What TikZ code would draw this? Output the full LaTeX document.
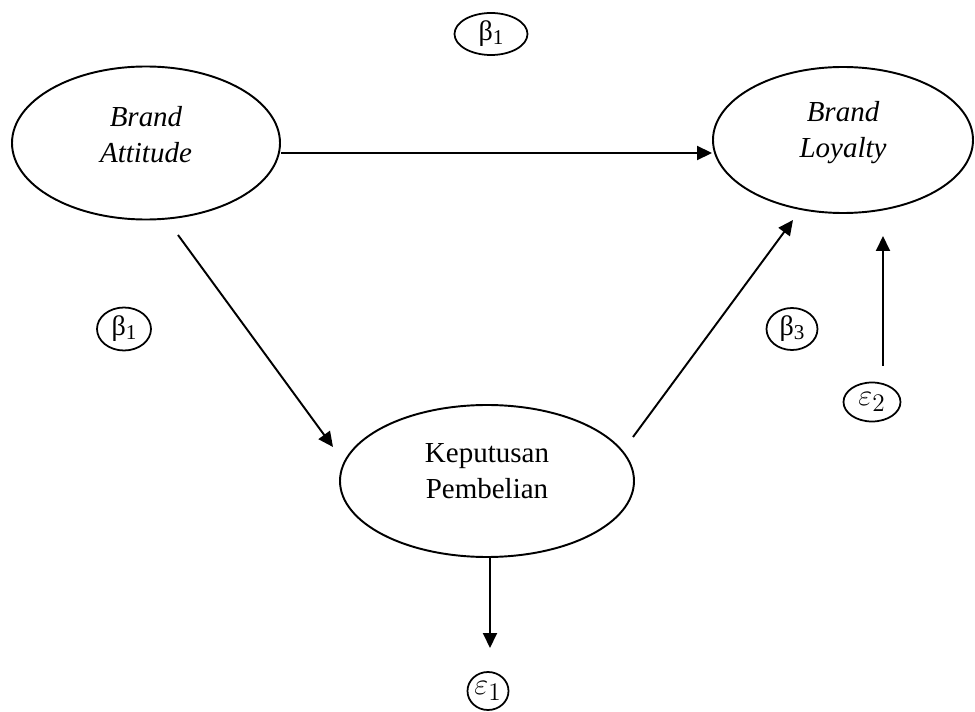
\documentclass[tikz,border=0pt]{standalone}
\usepackage{fontspec}
\setmainfont{Liberation Serif}
\usetikzlibrary{arrows.meta,shapes.geometric}

\begin{document}
\begin{tikzpicture}[
  besar/.style={draw, ellipse, line width=1.1pt, inner sep=0pt},
  kecil/.style={draw, ellipse, line width=1pt, inner sep=0pt},
  teks/.style={align=center, font=\fontsize{16.5}{20.5}\selectfont},
  panah/.style={line width=1.1pt, -{Triangle[length=0.3cm,width=0.28cm]}}
]
\useasboundingbox (0,0) rectangle (19.5,14.22);

% Variabel laten
\node[besar, minimum width=5.36cm, minimum height=3.06cm] (BA) at (2.92, 11.36) {};
\node[besar, minimum width=5.2cm, minimum height=2.92cm] (BL) at (16.86, 11.42) {};
\node[besar, minimum width=5.88cm, minimum height=3.04cm] (KP) at (9.74, 4.6) {};

\node[teks] (tBA) at ([yshift=0.16cm]BA) {\itshape Brand\\\itshape Attitude};
\node[teks] (tBL) at ([yshift=0.14cm]BL) {\itshape Brand\\\itshape Loyalty};
\node[teks] (tKP) at ([yshift=0.19cm]KP) {Keputusan\\Pembelian};

% Koefisien jalur dan error
\node[kecil, minimum width=1.46cm, minimum height=0.84cm] (b1a) at (9.82, 13.54)
  {\fontsize{16}{18}\selectfont β\raisebox{-0.3ex}{\fontsize{12}{14}\selectfont 1}};
\node[kecil, minimum width=1.08cm, minimum height=0.86cm] (b1b) at (2.48, 7.64)
  {\fontsize{16}{18}\selectfont β\raisebox{-0.3ex}{\fontsize{12}{14}\selectfont 1}};
\node[kecil, minimum width=1.02cm, minimum height=0.84cm] (b3) at (15.84, 7.64)
  {\fontsize{16}{18}\selectfont β\raisebox{-0.3ex}{\fontsize{12}{14}\selectfont 3}};
\node[kecil, minimum width=1.14cm, minimum height=0.78cm] (e2) at (17.44, 6.18)
  {\fontsize{19}{21}\selectfont $\varepsilon_2$};
\node[kecil, minimum width=0.82cm, minimum height=0.76cm] (e1) at (9.76, 0.4)
  {\fontsize{19}{21}\selectfont $\varepsilon_1$};

% Panah
\draw[panah] ([yshift=-0.2cm]BA.east) -- ([yshift=-0.26cm]BL.west);
\draw[panah] ([shift={(0.64,-1.84)}]BA.center) -- ([shift={(-3.08,0.68)}]KP.center);
\draw[panah] ([shift={(2.92,0.88)}]KP.center) -- ([shift={(-1.0,-1.6)}]BL.center);
\draw[panah] ([shift={(0.06,-1.52)}]KP.center) -- ([shift={(0.04,0.86)}]e1.center);
\draw[panah] ([shift={(0.22,0.72)}]e2.center) -- ([shift={(0.8,-1.92)}]BL.center);

\end{tikzpicture}
\end{document}
